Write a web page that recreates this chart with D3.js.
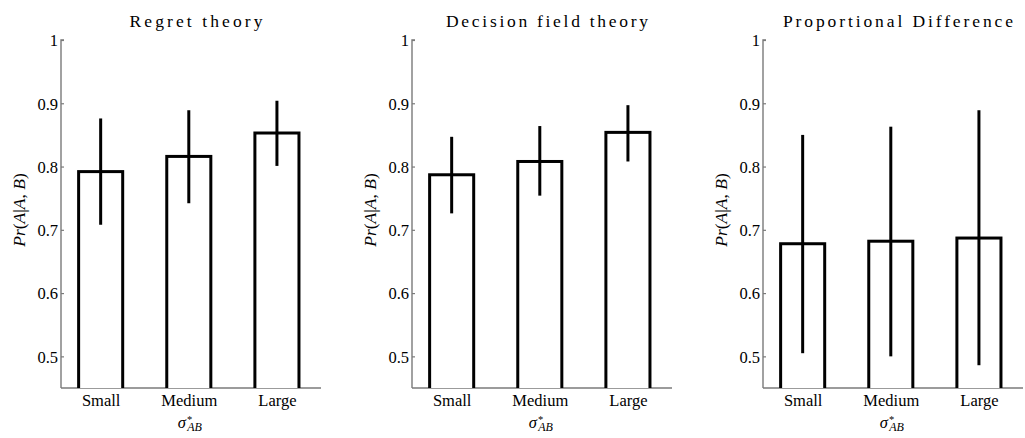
<!DOCTYPE html>
<html>
<head>
<meta charset="utf-8">
<script src="https://cdn.jsdelivr.net/npm/d3@7"></script>
<style>
  html, body { margin: 0; padding: 0; background: #fff; }
  svg { display: block; }
  svg text { font-family: "Liberation Serif", "Times New Roman", serif; fill: #000; }
</style>
</head>
<body>
<svg id="chart" width="1025" height="438"></svg>
<script>
// Choice proportions Pr(A|A,B) by sigma*_AB level, one panel per model
const categories = ["Small", "Medium", "Large"];
const titles = ["Regret theory", "Decision field theory", "Proportional Difference"];
const yTicks = [0.5, 0.6, 0.7, 0.8, 0.9, 1];

const regretMean = [0.792, 0.816, 0.853];
const regretLow  = [0.708, 0.742, 0.801];
const regretHigh = [0.876, 0.889, 0.904];

const dftMean = [0.787, 0.808, 0.854];
const dftLow  = [0.726, 0.754, 0.808];
const dftHigh = [0.847, 0.864, 0.897];

const pdMean = [0.678, 0.682, 0.687];
const pdLow  = [0.505, 0.500, 0.486];
const pdHigh = [0.850, 0.863, 0.889];

const panels = [
  { title: titles[0], mean: regretMean, low: regretLow, high: regretHigh },
  { title: titles[1], mean: dftMean, low: dftLow, high: dftHigh },
  { title: titles[2], mean: pdMean, low: pdLow, high: pdHigh }
];

const serif = '"Liberation Serif", "Times New Roman", serif';
const svg = d3.select("#chart");
const panelLeft = [61, 412, 763];
const plotTop = 40, plotW = 260, plotH = 348;
const titleWidths = [133, 202, 230];
const axisGrey = "#7a7a7a";

const x = d3.scaleLinear().domain([0.55, 3.5]).range([0, plotW]);
const y = d3.scaleLinear().domain([0.45, 1]).range([plotH, 0]);
const barHalf = 0.25;

panels.forEach((p, i) => {
  const g = svg.append("g").attr("transform", `translate(${panelLeft[i]},${plotTop})`);

  // clip so bars run off the bottom of the axes box
  const clipId = "clip" + i;
  g.append("clipPath").attr("id", clipId)
    .append("rect").attr("x", -2).attr("y", -2).attr("width", plotW + 4).attr("height", plotH + 2);

  // y axis: ticks pointing inward
  const yAxis = d3.axisRight(y).tickValues(yTicks).tickSize(3).tickFormat(d => d === 1 ? "1" : d3.format(".1f")(d));
  const ya = g.append("g").call(yAxis).attr("font-family", serif).attr("font-size", 16.5);
  ya.select(".domain").attr("stroke", axisGrey).attr("stroke-width", 1.4).attr("d", `M3,0H0V${plotH}`);
  ya.selectAll(".tick line").attr("stroke", axisGrey).attr("stroke-width", 1.2);
  ya.selectAll(".tick text")
    .attr("x", -3).attr("text-anchor", "end").attr("dy", "0.35em").attr("fill", "#000");

  // x axis: labels only
  const xAxis = d3.axisBottom(x).tickValues([1, 2, 3]).tickSize(0).tickFormat((d, k) => categories[k]);
  const xa = g.append("g").attr("transform", `translate(0,${plotH})`).call(xAxis)
    .attr("font-family", serif).attr("font-size", 16.5);
  xa.select(".domain").attr("stroke", axisGrey).attr("stroke-width", 1.4).attr("d", `M0,0H${plotW}`);
  xa.selectAll(".tick text").attr("y", 6).attr("dy", "0.71em").attr("fill", "#000");

  // bars
  const bars = g.append("g").attr("clip-path", `url(#${clipId})`);
  bars.selectAll("rect").data(p.mean).join("rect")
    .attr("x", (d, k) => x(k + 1 - barHalf))
    .attr("width", x(1 + barHalf) - x(1 - barHalf))
    .attr("y", d => y(d))
    .attr("height", d => y(0.4) - y(d))
    .attr("fill", "#fff").attr("stroke", "#000").attr("stroke-width", 3);

  // error bars
  g.append("g").selectAll("line").data(p.mean).join("line")
    .attr("x1", (d, k) => x(k + 1)).attr("x2", (d, k) => x(k + 1))
    .attr("y1", (d, k) => y(p.low[k])).attr("y2", (d, k) => y(p.high[k]))
    .attr("stroke", "#000").attr("stroke-width", 3);

  // title
  g.append("text")
    .attr("x", plotW / 2 + 5).attr("y", -13)
    .attr("text-anchor", "middle")
    .attr("textLength", titleWidths[i]).attr("lengthAdjust", "spacing")
    .attr("font-size", 17.5)
    .text(p.title);

  // y label
  const yl = g.append("text")
    .attr("transform", `translate(-36,${plotH / 2 - 4}) rotate(-90)`)
    .attr("text-anchor", "middle")
    .attr("font-size", 17.5).attr("font-style", "italic");
  yl.append("tspan").text("Pr");
  yl.append("tspan").attr("font-style", "normal").text("(");
  yl.append("tspan").text("A");
  yl.append("tspan").attr("font-style", "normal").text("|");
  yl.append("tspan").text("A");
  yl.append("tspan").attr("font-style", "normal").text(", ");
  yl.append("tspan").text("B");
  yl.append("tspan").attr("font-style", "normal").text(")");

  // x label sigma*_AB
  const xl = g.append("text")
    .attr("x", x(2) + 1).attr("y", plotH + 40)
    .attr("text-anchor", "middle")
    .attr("font-size", 16.5).attr("font-style", "italic");
  xl.append("tspan").text("σ");
  xl.append("tspan").attr("dy", -5).attr("dx", 1).attr("font-size", 10.5).attr("font-style", "normal").text("*");
  xl.append("tspan").attr("dy", 8).attr("dx", -5).attr("font-size", 12).text("AB");
});
</script>
</body>
</html>
